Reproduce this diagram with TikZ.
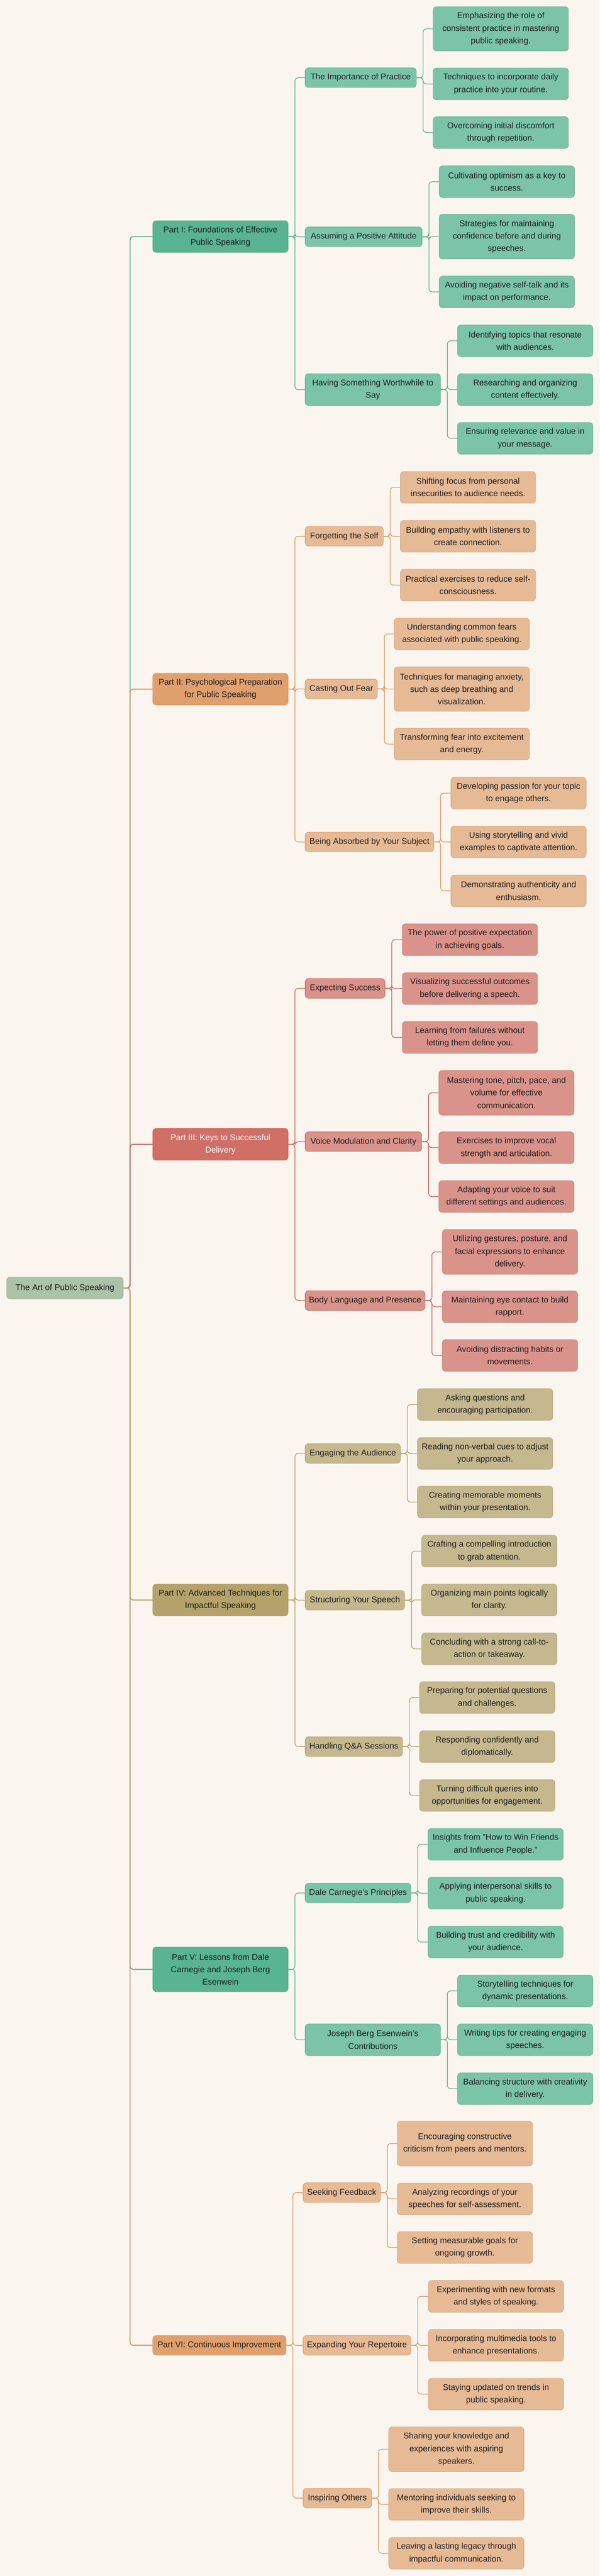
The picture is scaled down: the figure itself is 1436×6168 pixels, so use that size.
\documentclass[tikz,border=0pt]{standalone}
\usepackage{fontspec}
\setmainfont{Liberation Sans}
\definecolor{bgcol}{HTML}{FAF6EF}
\definecolor{inkcol}{HTML}{1E1E1E}
\definecolor{rootF}{HTML}{ADC3A9}
\definecolor{rootD}{HTML}{98B294}
\definecolor{grnP}{HTML}{58B491}
\definecolor{grnS}{HTML}{7BC4A8}
\definecolor{grnD}{HTML}{5DAE8D}
\definecolor{orgP}{HTML}{E0A06E}
\definecolor{orgS}{HTML}{E7BA96}
\definecolor{orgD}{HTML}{E0955C}
\definecolor{redP}{HTML}{CF6F66}
\definecolor{redS}{HTML}{DA938B}
\definecolor{redD}{HTML}{CF625A}
\definecolor{oliP}{HTML}{B4A26A}
\definecolor{oliS}{HTML}{C5B88F}
\definecolor{oliD}{HTML}{B3A06A}
\newcommand{\joint}[3]{\draw[#1] (#2.east) -- ++(16,0) |- (#3.west);}

\begin{document}
\begin{tikzpicture}[x=1pt, y=-1pt,
  box/.style={rounded corners=8pt, line width=1pt, inner sep=0pt, align=center, text=inkcol,
    font=\fontsize{20pt}{30pt}\selectfont},
  rootbox/.style={box, fill=rootF, draw=rootD, minimum width=279pt, minimum height=52pt},
  partbox/.style={box, fill=#1P, draw=#1D, minimum width=324pt, minimum height=76pt},
  subbox/.style={box, fill=#1S, draw=#1D, minimum height=47pt},
  leafbox/.style={box, fill=#1S, draw=#1S!90!black, minimum width=324pt, minimum height=76pt},
  trunk/.style={draw=#1D, line width=2.4pt, rounded corners=8pt},
  twig/.style={draw=#1D, line width=1.6pt, rounded corners=8pt}]
\fill[bgcol] (0,0) rectangle (1436,6168);

\node[rootbox] (art) at (155.5,3084) {The Art of Public Speaking};

%% Part I % {{{
\begin{scope}
\node[partbox=grn] (p1) at (528,566.5) {Part I: Foundations of Effective\\Public Speaking};
\node[subbox=grn, minimum width=266pt] (p1a) at (864,186) {The Importance of Practice};
\node[subbox=grn, minimum width=280pt] (p1b) at (871,567) {Assuming a Positive Attitude};
\node[subbox=grn, minimum width=324pt, minimum height=76pt] (p1c) at (893,933) {Having Something Worthwhile to\\Say};
\node[leafbox=grn, minimum height=106pt] (p1a1) at (1199.5,69) {Emphasizing the role of\\consistent practice in mastering\\public speaking.};
\node[leafbox=grn] (p1a2) at (1199.5,201) {Techniques to incorporate daily\\practice into your routine.};
\node[leafbox=grn] (p1a3) at (1199.5,317.5) {Overcoming initial discomfort\\through repetition.};
\node[leafbox=grn] (p1b1) at (1214,435) {Cultivating optimism as a key to\\success.};
\node[leafbox=grn, minimum height=107pt] (p1b2) at (1214,566.5) {Strategies for maintaining\\confidence before and during\\speeches.};
\node[leafbox=grn] (p1b3) at (1214,699) {Avoiding negative self-talk and its\\impact on performance.};
\node[leafbox=grn] (p1c1) at (1258,816) {Identifying topics that resonate\\with audiences.};
\node[leafbox=grn] (p1c2) at (1258,933) {Researching and organizing\\content effectively.};
\node[leafbox=grn] (p1c3) at (1258,1049.5) {Ensuring relevance and value in\\your message.};
\end{scope} % }}}

%% Part II % {{{
\begin{scope}
\node[partbox=org] (p2) at (528,1650) {Part II: Psychological Preparation\\for Public Speaking};
\node[subbox=org, minimum width=187pt] (p2a) at (824.5,1284) {Forgetting the Self};
\node[subbox=org, minimum width=173pt] (p2b) at (817.5,1649.5) {Casting Out Fear};
\node[subbox=org, minimum width=308pt] (p2c) at (885,2016) {Being Absorbed by Your Subject};
\node[leafbox=org] (p2a1) at (1121,1167) {Shifting focus from personal\\insecurities to audience needs.};
\node[leafbox=org] (p2a2) at (1121,1284) {Building empathy with listeners to\\create connection.};
\node[leafbox=org] (p2a3) at (1121,1401) {Practical exercises to reduce self-\\consciousness.};
\node[leafbox=org] (p2b1) at (1106,1518) {Understanding common fears\\associated with public speaking.};
\node[leafbox=org, minimum height=106pt] (p2b2) at (1106,1650) {Techniques for managing anxiety,\\such as deep breathing and\\visualization.};
\node[leafbox=org] (p2b3) at (1106,1781.5) {Transforming fear into excitement\\and energy.};
\node[leafbox=org] (p2c1) at (1242,1899) {Developing passion for your topic\\to engage others.};
\node[leafbox=org] (p2c2) at (1242,2016) {Using storytelling and vivid\\examples to captivate attention.};
\node[leafbox=org] (p2c3) at (1242,2133) {Demonstrating authenticity and\\enthusiasm.};
\end{scope} % }}}

%% Part III % {{{
\begin{scope}
\node[partbox=red, text=white] (p3) at (528,2740) {Part III: Keys to Successful\\Delivery};
\node[subbox=red, minimum width=191pt] (p3a) at (826.5,2366.5) {Expecting Success};
\node[subbox=red, minimum width=279pt] (p3b) at (870.5,2733.5) {Voice Modulation and Clarity};
\node[subbox=red, minimum width=287pt] (p3c) at (874.5,3114) {Body Language and Presence};
\node[leafbox=red] (p3a1) at (1125.5,2250) {The power of positive expectation\\in achieving goals.};
\node[leafbox=red] (p3a2) at (1125.5,2367) {Visualizing successful outcomes\\before delivering a speech.};
\node[leafbox=red] (p3a3) at (1125.5,2484) {Learning from failures without\\letting them define you.};
\node[leafbox=red, minimum height=107pt] (p3b1) at (1213,2616.5) {Mastering tone, pitch, pace, and\\volume for effective\\communication.};
\node[leafbox=red] (p3b2) at (1213,2748) {Exercises to improve vocal\\strength and articulation.};
\node[leafbox=red] (p3b3) at (1213,2865) {Adapting your voice to suit\\different settings and audiences.};
\node[leafbox=red, minimum height=107pt] (p3c1) at (1221.5,2997.5) {Utilizing gestures, posture, and\\facial expressions to enhance\\delivery.};
\node[leafbox=red] (p3c2) at (1221.5,3129) {Maintaining eye contact to build\\rapport.};
\node[leafbox=red] (p3c3) at (1221.5,3245.5) {Avoiding distracting habits or\\movements.};
\end{scope} % }}}

%% Part IV % {{{
\begin{scope}
\node[partbox=oli] (p4) at (528,3831) {Part IV: Advanced Techniques for\\Impactful Speaking};
\node[subbox=oli, minimum width=228pt] (p4a) at (845,3480) {Engaging the Audience};
\node[subbox=oli, minimum width=238pt] (p4b) at (850,3831.5) {Structuring Your Speech};
\node[subbox=oli, minimum width=233pt] (p4c) at (847.5,4182) {Handling Q\&A Sessions};
\node[leafbox=oli] (p4a1) at (1162,3363) {Asking questions and\\encouraging participation.};
\node[leafbox=oli] (p4a2) at (1162,3480) {Reading non-verbal cues to adjust\\your approach.};
\node[leafbox=oli] (p4a3) at (1162,3596.5) {Creating memorable moments\\within your presentation.};
\node[leafbox=oli] (p4b1) at (1172,3714) {Crafting a compelling introduction\\to grab attention.};
\node[leafbox=oli] (p4b2) at (1172,3831) {Organizing main points logically\\for clarity.};
\node[leafbox=oli] (p4b3) at (1172,3948) {Concluding with a strong call-to-\\action or takeaway.};
\node[leafbox=oli] (p4c1) at (1167,4064.5) {Preparing for potential questions\\and challenges.};
\node[leafbox=oli] (p4c2) at (1167,4182) {Responding confidently and\\diplomatically.};
\node[leafbox=oli] (p4c3) at (1167,4299) {Turning difficult queries into\\opportunities for engagement.};
\end{scope} % }}}

%% Part V % {{{
\begin{scope}
\node[partbox=grn, minimum height=107pt] (p5) at (528,4715.5) {Part V: Lessons from Dale\\Carnegie and Joseph Berg\\Esenwein};
\node[subbox=grn, minimum width=253pt] (p5a) at (857.5,4532.5) {Dale Carnegie's Principles};
\node[subbox=grn, minimum width=324pt, minimum height=76pt] (p5b) at (893,4884) {Joseph Berg Esenwein's\\Contributions};
\node[leafbox=grn] (p5a1) at (1187,4416) {Insights from "How to Win Friends\\and Influence People."};
\node[leafbox=grn] (p5a2) at (1187,4533) {Applying interpersonal skills to\\public speaking.};
\node[leafbox=grn] (p5a3) at (1187,4650) {Building trust and credibility with\\your audience.};
\node[leafbox=grn] (p5b1) at (1258,4767) {Storytelling techniques for\\dynamic presentations.};
\node[leafbox=grn] (p5b2) at (1258,4884) {Writing tips for creating engaging\\speeches.};
\node[leafbox=grn] (p5b3) at (1258,5001) {Balancing structure with creativity\\in delivery.};
\end{scope} % }}}

%% Part VI % {{{
\begin{scope}
\node[partbox=org, minimum width=319pt, minimum height=47pt] (p6) at (525.5,5615.5) {Part VI: Continuous Improvement};
\node[subbox=org, minimum width=185pt] (p6a) at (818.5,5250) {Seeking Feedback};
\node[subbox=org, minimum width=258pt] (p6b) at (855,5615.5) {Expanding Your Repertoire};
\node[subbox=org, minimum width=164pt] (p6c) at (808,5981.5) {Inspiring Others};
\node[leafbox=org, minimum height=107pt] (p6a1) at (1113.5,5132.5) {Encouraging constructive\\criticism from peers and mentors.};
\node[leafbox=org] (p6a2) at (1113.5,5265) {Analyzing recordings of your\\speeches for self-assessment.};
\node[leafbox=org] (p6a3) at (1113.5,5381.5) {Setting measurable goals for\\ongoing growth.};
\node[leafbox=org] (p6b1) at (1188,5498.5) {Experimenting with new formats\\and styles of speaking.};
\node[leafbox=org] (p6b2) at (1188,5615.5) {Incorporating multimedia tools to\\enhance presentations.};
\node[leafbox=org] (p6b3) at (1188,5732.5) {Staying updated on trends in\\public speaking.};
\node[leafbox=org, minimum height=107pt] (p6c1) at (1093,5864.5) {Sharing your knowledge and\\experiences with aspiring\\speakers.};
\node[leafbox=org] (p6c2) at (1093,5996.5) {Mentoring individuals seeking to\\improve their skills.};
\node[leafbox=org] (p6c3) at (1093,6113.5) {Leaving a lasting legacy through\\impactful communication.};
\end{scope} % }}}

%% connectors % {{{
\joint{trunk=grn}{art}{p1}
\joint{trunk=org}{art}{p2}
\joint{trunk=red}{art}{p3}
\joint{trunk=oli}{art}{p4}
\joint{trunk=grn}{art}{p5}
\joint{trunk=org}{art}{p6}
\joint{twig=grn}{p1}{p1a} \joint{twig=grn}{p1}{p1b} \joint{twig=grn}{p1}{p1c}
\joint{twig=grn}{p1a}{p1a1} \joint{twig=grn}{p1a}{p1a2} \joint{twig=grn}{p1a}{p1a3}
\joint{twig=grn}{p1b}{p1b1} \joint{twig=grn}{p1b}{p1b2} \joint{twig=grn}{p1b}{p1b3}
\joint{twig=grn}{p1c}{p1c1} \joint{twig=grn}{p1c}{p1c2} \joint{twig=grn}{p1c}{p1c3}
\joint{twig=org}{p2}{p2a} \joint{twig=org}{p2}{p2b} \joint{twig=org}{p2}{p2c}
\joint{twig=org}{p2a}{p2a1} \joint{twig=org}{p2a}{p2a2} \joint{twig=org}{p2a}{p2a3}
\joint{twig=org}{p2b}{p2b1} \joint{twig=org}{p2b}{p2b2} \joint{twig=org}{p2b}{p2b3}
\joint{twig=org}{p2c}{p2c1} \joint{twig=org}{p2c}{p2c2} \joint{twig=org}{p2c}{p2c3}
\joint{twig=red}{p3}{p3a} \joint{twig=red}{p3}{p3b} \joint{twig=red}{p3}{p3c}
\joint{twig=red}{p3a}{p3a1} \joint{twig=red}{p3a}{p3a2} \joint{twig=red}{p3a}{p3a3}
\joint{twig=red}{p3b}{p3b1} \joint{twig=red}{p3b}{p3b2} \joint{twig=red}{p3b}{p3b3}
\joint{twig=red}{p3c}{p3c1} \joint{twig=red}{p3c}{p3c2} \joint{twig=red}{p3c}{p3c3}
\joint{twig=oli}{p4}{p4a} \joint{twig=oli}{p4}{p4b} \joint{twig=oli}{p4}{p4c}
\joint{twig=oli}{p4a}{p4a1} \joint{twig=oli}{p4a}{p4a2} \joint{twig=oli}{p4a}{p4a3}
\joint{twig=oli}{p4b}{p4b1} \joint{twig=oli}{p4b}{p4b2} \joint{twig=oli}{p4b}{p4b3}
\joint{twig=oli}{p4c}{p4c1} \joint{twig=oli}{p4c}{p4c2} \joint{twig=oli}{p4c}{p4c3}
\joint{twig=grn}{p5}{p5a} \joint{twig=grn}{p5}{p5b}
\joint{twig=grn}{p5a}{p5a1} \joint{twig=grn}{p5a}{p5a2} \joint{twig=grn}{p5a}{p5a3}
\joint{twig=grn}{p5b}{p5b1} \joint{twig=grn}{p5b}{p5b2} \joint{twig=grn}{p5b}{p5b3}
\joint{twig=org}{p6}{p6a} \joint{twig=org}{p6}{p6b} \joint{twig=org}{p6}{p6c}
\joint{twig=org}{p6a}{p6a1} \joint{twig=org}{p6a}{p6a2} \joint{twig=org}{p6a}{p6a3}
\joint{twig=org}{p6b}{p6b1} \joint{twig=org}{p6b}{p6b2} \joint{twig=org}{p6b}{p6b3}
\joint{twig=org}{p6c}{p6c1} \joint{twig=org}{p6c}{p6c2} \joint{twig=org}{p6c}{p6c3}
% }}}
\end{tikzpicture}
\end{document}
